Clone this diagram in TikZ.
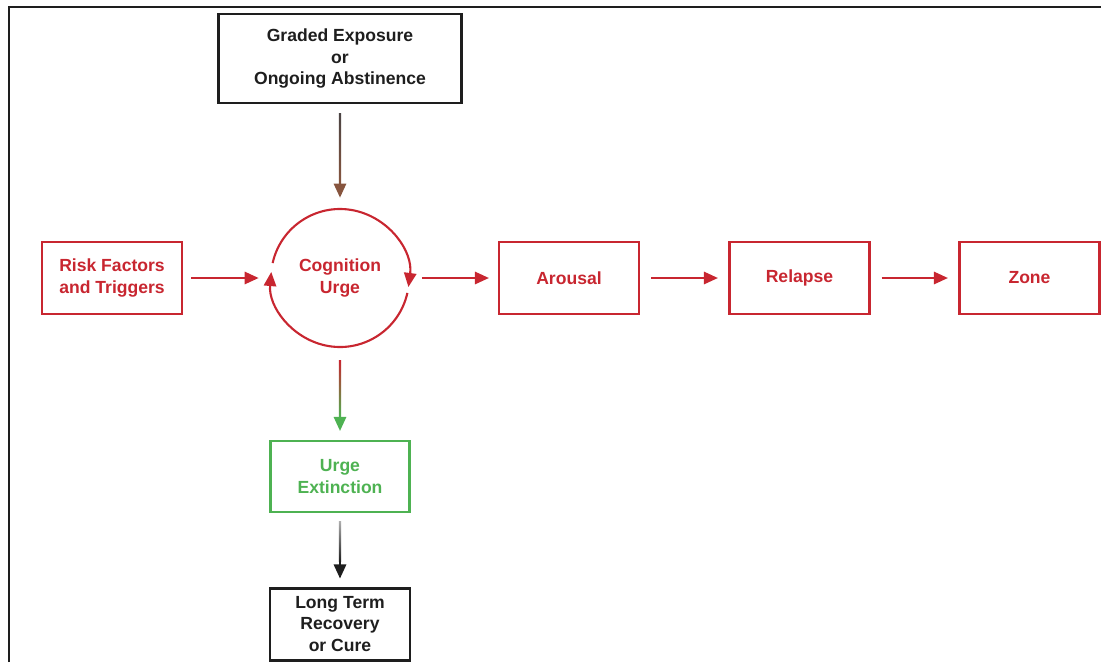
\documentclass[tikz,border=0pt]{standalone}
\usepackage{fontspec}
\setmainfont{Liberation Sans}
\usepackage{tikz}
\usetikzlibrary{arrows.meta, positioning}

\definecolor{cred}{RGB}{200,38,48}
\definecolor{cgreen}{RGB}{78,178,82}
\definecolor{cblack}{RGB}{30,30,30}
\definecolor{cbrown}{RGB}{135,85,62}
\definecolor{cdgray}{RGB}{75,68,68}
\definecolor{clgray}{RGB}{175,175,175}

\begin{document}
\begin{tikzpicture}[
  redbox/.style={rectangle, draw=cred, text=cred, line width=1.2pt,
                 minimum width=2.8cm, minimum height=1.43cm, align=center,
                 font=\bfseries\fontsize{10}{12}\selectfont},
  blkbox/.style={rectangle, draw=cblack, text=cblack, line width=1.7pt,
                 minimum width=2.8cm, minimum height=1.44cm, align=center,
                 font=\bfseries\fontsize{10}{12}\selectfont},
  grnbox/.style={rectangle, draw=cgreen, text=cgreen, line width=1.2pt,
                 minimum width=2.78cm, minimum height=1.42cm, align=center,
                 font=\bfseries\fontsize{10}{12}\selectfont},
  arr/.style={-{Triangle[length=8pt, width=7pt]}, line width=1.2pt},
  hop/.style={shorten <=0.22cm, shorten >=0.21cm}
]
\useasboundingbox (0,0) rectangle (22.02,-13.24);

% ---- frame ----
\draw[cblack, line width=1.1pt] (0.18,-13.24) -- (0.18,-0.14) -- (22.02,-0.14);

% ---- top ----
\node[blkbox, minimum width=4.86cm, minimum height=1.78cm] (exp) at (6.8,-1.17)
  {Graded Exposure\\or\\Ongoing Abstinence};

% ---- main row (y = -5.56) ----
\node[redbox] (risk) at (2.24,-5.56) {Risk Factors\\and Triggers};
\node[circle, minimum size=2.76cm, text=cred, align=center,
      font=\bfseries\fontsize{10}{12}\selectfont] (cyc) at (6.8,-5.56) {Cognition\\Urge};
\node[redbox] (arou) at (11.38,-5.56) {Arousal};
\node[redbox] (rel)  at (15.99,-5.56) {Relapse};
\node[redbox] (zone) at (20.59,-5.56) {Zone};

% cycle round the urge
\draw[arr, cred] ([shift={(167.5:1.38)}]cyc.center) arc[start angle=167.5, end angle=-7.5, radius=1.38];
\draw[arr, cred] ([shift={(-12.5:1.38)}]cyc.center) arc[start angle=-12.5, end angle=-185, radius=1.38];

\draw[arr, cred, shorten <=0.16cm, shorten >=0.24cm] (risk) -- (cyc);
\draw[arr, cred, shorten <=0.25cm, shorten >=0.18cm] (cyc) -- (arou);
\draw[arr, cred, hop] (arou) -- (rel);
\draw[arr, cred, hop] (rel) -- (zone);

% ---- lower column ----
\node[grnbox] (ext)  at (6.8,-9.53)  {Urge\\Extinction};
\node[blkbox] (cure) at (6.8,-12.48) {Long Term\\Recovery\\or Cure};

% ---- shaded connectors ----
\draw[arr, cbrown, shorten <=0.18cm, shorten >=0.22cm] (exp) -- (cyc);
\shade[top color=cdgray, bottom color=cbrown]
  ([shift={(-0.021,-0.18)}]exp.south) rectangle ([shift={(0.021,0.5)}]cyc.north);

\draw[arr, cgreen, shorten <=0.26cm, shorten >=0.18cm] (cyc) -- (ext);
\shade[top color=cred, bottom color=cgreen]
  ([shift={(-0.021,-0.26)}]cyc.south) rectangle ([shift={(0.021,0.46)}]ext.north);

\draw[arr, cblack, shorten <=0.16cm, shorten >=0.16cm] (ext) -- (cure);
\shade[top color=clgray, bottom color=cblack]
  ([shift={(-0.021,-0.16)}]ext.south) rectangle ([shift={(0.021,0.5)}]cure.north);

\end{tikzpicture}
\end{document}
